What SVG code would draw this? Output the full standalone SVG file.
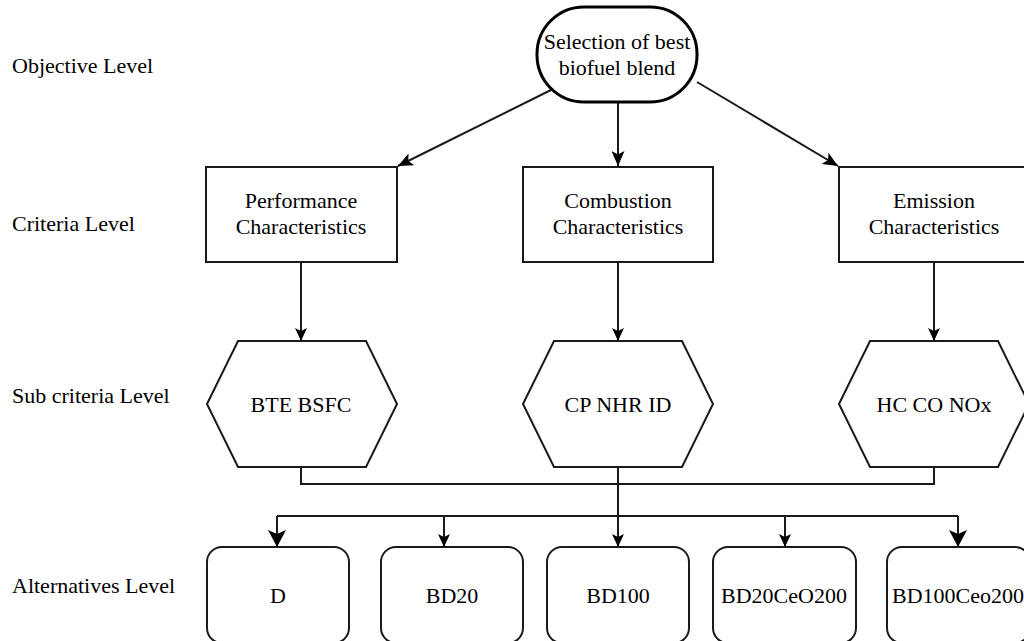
<svg xmlns="http://www.w3.org/2000/svg" width="1024" height="641" viewBox="0 0 1024 641">
<style>
  text { font-family: "Liberation Serif", "Times New Roman", serif; font-size: 22px; fill: #000; }
  .c { text-anchor: middle; }
  .shape { fill: #fff; stroke: #1a1a1a; stroke-width: 2; }
  .goal { fill: #fff; stroke: #000; stroke-width: 3; }
  .edge { fill: none; stroke: #1a1a1a; stroke-width: 2; }
</style>
<defs>
  <marker id="big" viewBox="0 0 17 18" refX="17" refY="9" markerWidth="17" markerHeight="18" markerUnits="userSpaceOnUse" orient="auto">
    <path d="M0,0 L17,9 L0,18 L4,9 Z" fill="#000"/>
  </marker>
  <marker id="small" viewBox="0 0 13 12" refX="13" refY="6" markerWidth="13" markerHeight="12" markerUnits="userSpaceOnUse" orient="auto">
    <path d="M0,0 L13,6 L0,12 L3,6 Z" fill="#000"/>
  </marker>
  <marker id="mid" viewBox="0 0 15 13" refX="15" refY="6.5" markerWidth="15" markerHeight="13" markerUnits="userSpaceOnUse" orient="auto">
    <path d="M0,0 L15,6.5 L0,13 L3.5,6.5 Z" fill="#000"/>
  </marker>
</defs>

<g id="level-labels">
  <text x="12" y="73">Objective Level</text>
  <text x="12" y="231">Criteria Level</text>
  <text x="12" y="403">Sub criteria Level</text>
  <text x="12" y="593">Alternatives Level</text>
</g>

<g id="connectors">
  <line class="edge" x1="553" y1="89" x2="398" y2="166" marker-end="url(#mid)"/>
  <line class="edge" x1="618" y1="102" x2="618" y2="166" marker-end="url(#mid)"/>
  <line class="edge" x1="697" y1="82" x2="838" y2="166" marker-end="url(#mid)"/>
  <line class="edge" x1="301" y1="262" x2="301" y2="341" marker-end="url(#small)"/>
  <line class="edge" x1="618" y1="262" x2="618" y2="341" marker-end="url(#small)"/>
  <line class="edge" x1="934" y1="262" x2="934" y2="341" marker-end="url(#small)"/>
  <polyline class="edge" points="301,467 301,484 934,484 934,467"/>
  <line class="edge" x1="618" y1="467" x2="618" y2="547" marker-end="url(#small)"/>
  <line class="edge" x1="277" y1="516" x2="958" y2="516"/>
  <line class="edge" x1="277" y1="516" x2="277" y2="547" marker-end="url(#big)"/>
  <line class="edge" x1="444" y1="516" x2="444" y2="547" marker-end="url(#small)"/>
  <line class="edge" x1="785" y1="516" x2="785" y2="547" marker-end="url(#small)"/>
  <line class="edge" x1="958" y1="516" x2="958" y2="547" marker-end="url(#big)"/>
</g>

<g id="goal">
  <rect class="goal" x="537" y="7" width="160" height="95" rx="47" ry="47"/>
  <text class="c" x="617" y="49">Selection of best</text>
  <text class="c" x="617" y="75">biofuel blend</text>
</g>

<g id="performance">
  <rect class="shape" x="206" y="167" width="191" height="95"/>
  <text class="c" x="301" y="208">Performance</text>
  <text class="c" x="301" y="234">Characteristics</text>
</g>
<g id="combustion">
  <rect class="shape" x="523" y="167" width="190" height="95"/>
  <text class="c" x="618" y="208">Combustion</text>
  <text class="c" x="618" y="234">Characteristics</text>
</g>
<g id="emission">
  <rect class="shape" x="839" y="167" width="191" height="95"/>
  <text class="c" x="934" y="208">Emission</text>
  <text class="c" x="934" y="234">Characteristics</text>
</g>

<g id="sub-performance">
  <polygon class="shape" points="207,404 238,341 366,341 397,404 366,467 238,467"/>
  <text class="c" x="301" y="412">BTE BSFC</text>
</g>
<g id="sub-combustion">
  <polygon class="shape" points="523,404 554,341 682,341 713,404 682,467 554,467"/>
  <text class="c" x="618" y="412">CP NHR ID</text>
</g>
<g id="sub-emission">
  <polygon class="shape" points="839,404 870,341 998,341 1029,404 998,467 870,467"/>
  <text class="c" x="934" y="412">HC CO NOx</text>
</g>

<g id="alt-d">
  <rect class="shape" x="207" y="547" width="142" height="96" rx="15" ry="15"/>
  <text class="c" x="278" y="603">D</text>
</g>
<g id="alt-bd20">
  <rect class="shape" x="381" y="547" width="142" height="96" rx="15" ry="15"/>
  <text class="c" x="452" y="603">BD20</text>
</g>
<g id="alt-bd100">
  <rect class="shape" x="547" y="547" width="142" height="96" rx="15" ry="15"/>
  <text class="c" x="618" y="603">BD100</text>
</g>
<g id="alt-bd20ceo200">
  <rect class="shape" x="713" y="547" width="143" height="96" rx="15" ry="15"/>
  <text class="c" x="784" y="603">BD20CeO200</text>
</g>
<g id="alt-bd100ceo200">
  <rect class="shape" x="887" y="547" width="143" height="96" rx="15" ry="15"/>
  <text class="c" x="958" y="603">BD100Ceo200</text>
</g>
</svg>
